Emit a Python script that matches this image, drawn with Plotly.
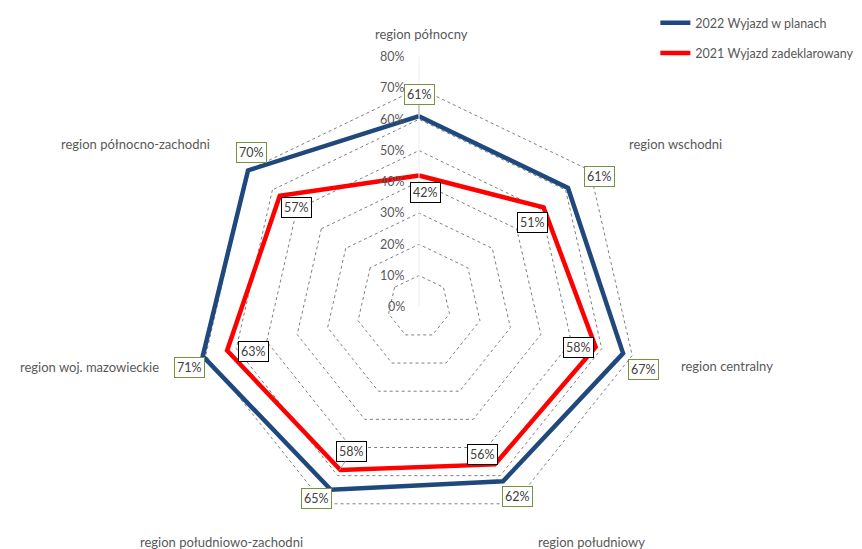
import math
import plotly.graph_objects as go

categories = ["region północny", "region wschodni", "region centralny", "region południowy",
              "region południowo-zachodni", "region woj. mazowieckie", "region północno-zachodni"]
series_2022 = [61, 61, 67, 62, 65, 71, 70]
series_2021 = [42, 51, 58, 56, 58, 63, 57]
name_2022 = "2022 Wyjazd w planach"
name_2021 = "2021 Wyjazd zadeklarowany"
radial_ticks = [0, 10, 20, 30, 40, 50, 60, 70, 80]
radial_ticktext = [f"{v}%" for v in radial_ticks]
radial_max = 80

# label offsets in pixels (dx, dy down-positive)
off_2022 = [(0, -21), (30, -11), (18, 16), (14, 15), (-13, 9), (-11, 11), (5, -18)]
off_2021 = [(6, 17), (-12, 15), (-19, 0), (-13, -10), (12, -19), (28, 1), (18, 12)]
leader_2022 = [True, False, False, False, False, False, False]
leader_2021 = [False, False, False, False, True, False, False]
# category label placement: (anchor, dx, dy up-positive)
cat_place = [("center", 2, 23), ("left", 11, 7), ("left", 14, -4), ("left", 7, -10),
             ("right", -4, -10), ("right", -12, -5), ("right", -10, 7)]

W, H = 862, 549
cx = 411
ytop = 0.92
R = min(512, ytop * H) / 2

FONT = "Lato, 'Open Sans', sans-serif"
GRAY = "#595959"
BLUE = "#1F497D"
RED = "#FF0000"

fig = go.Figure()
closed = categories + categories[:1]
fig.add_trace(go.Scatterpolar(r=series_2022 + series_2022[:1], theta=closed, mode="lines",
                              line=dict(color=BLUE, width=4.5), name=name_2022,
                              legendgroup="a", cliponaxis=False))
fig.add_trace(go.Scatterpolar(r=series_2021 + series_2021[:1], theta=closed, mode="lines",
                              line=dict(color=RED, width=4.5), name=name_2021,
                              legendgroup="b", cliponaxis=False))

annotations = []
n = len(categories)
for vals, offs, leads, bc in ((series_2022, off_2022, leader_2022, "#76923C"),
                               (series_2021, off_2021, leader_2021, "#000000")):
    for i, v in enumerate(vals):
        ang = math.radians(i * 360 / n)
        annotations.append(dict(
            x=v * math.sin(ang), y=v * math.cos(ang), xref="x", yref="y",
            text=f"{v}%", showarrow=True, ax=offs[i][0], ay=offs[i][1],
            arrowhead=0, arrowwidth=1,
            arrowcolor="#A6A6A6" if leads[i] else "rgba(0,0,0,0)",
            bordercolor=bc, borderwidth=1, borderpad=2, bgcolor="white",
            font=dict(family=FONT, size=12.5, color="#404040")))

for i, c in enumerate(categories):
    ang = math.radians(i * 360 / n)
    anc, dx, dy = cat_place[i]
    annotations.append(dict(
        x=radial_max * math.sin(ang), y=radial_max * math.cos(ang), xref="x", yref="y",
        text=c, showarrow=False, xanchor=anc, yanchor="middle", xshift=dx, yshift=dy,
        font=dict(family=FONT, size=13, color=GRAY)))

for v, t in zip(radial_ticks, radial_ticktext):
    annotations.append(dict(
        x=0, y=v, xref="x", yref="y", text=t, showarrow=False,
        xanchor="right", yanchor="middle", xshift=-12, yshift=0,
        font=dict(family=FONT, size=12.5, color=GRAY)))

fig.update_layout(
    width=W, height=H, margin=dict(l=0, r=0, t=0, b=0),
    paper_bgcolor="white", plot_bgcolor="rgba(0,0,0,0)",
    font=dict(family=FONT, size=12, color=GRAY),
    polar=dict(
        domain=dict(x=[(cx - 256) / W, (cx + 256) / W], y=[0, ytop]),
        gridshape="linear", bgcolor="white",
        angularaxis=dict(rotation=90, direction="clockwise", showgrid=False, showline=False,
                         ticks="", showticklabels=False),
        radialaxis=dict(range=[0, radial_max + 0.1], tickvals=radial_ticks,
                        angle=90, showticklabels=False,
                        showline=True, linecolor="#EDEDED", linewidth=1,
                        gridcolor="#7F7F7F", griddash="dot", gridwidth=1, ticks=""),
    ),
    xaxis=dict(domain=[(cx - R) / W, (cx + R) / W], range=[-80, 80], visible=False, fixedrange=True),
    yaxis=dict(domain=[0, ytop], range=[-80, 80], visible=False, fixedrange=True),
    showlegend=True,
    legend=dict(x=0.751, y=1.01, xanchor="left", yanchor="top", tracegroupgap=11,
                font=dict(family=FONT, size=12.5, color=GRAY), bgcolor="rgba(0,0,0,0)"),
    annotations=annotations,
)

fig.write_html("out.html")
